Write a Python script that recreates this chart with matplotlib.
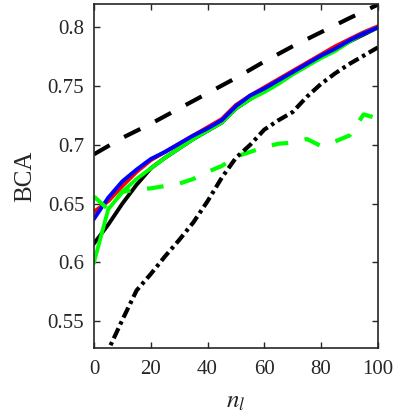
import numpy as np
from matplotlib import pyplot as plt

plt.rcParams['font.family'] = ['Liberation Serif', 'DejaVu Serif']
plt.rcParams['mathtext.fontset'] = 'stix'
plt.rcParams['lines.scale_dashes'] = False

n = np.arange(0, 101, 5)
n10 = np.arange(0, 101, 10)

# solid curves
bca_black = [0.616, 0.632, 0.650, 0.666, 0.680, 0.689, 0.697, 0.705, 0.712, 0.719, 0.731,
             0.739, 0.746, 0.753, 0.761, 0.768, 0.775, 0.781, 0.788, 0.794, 0.800]
bca_red = [0.643, 0.652, 0.665, 0.677, 0.687, 0.694, 0.701, 0.708, 0.715, 0.722, 0.734,
           0.742, 0.749, 0.756, 0.763, 0.770, 0.777, 0.784, 0.790, 0.796, 0.801]
bca_green = [0.600, 0.645, 0.660, 0.671, 0.680, 0.689, 0.697, 0.705, 0.712, 0.719, 0.731,
             0.739, 0.745, 0.752, 0.760, 0.767, 0.774, 0.780, 0.788, 0.795, 0.800]
bca_blue = [0.637, 0.655, 0.669, 0.679, 0.688, 0.694, 0.701, 0.708, 0.714, 0.721, 0.733,
            0.742, 0.748, 0.755, 0.762, 0.769, 0.776, 0.782, 0.789, 0.795, 0.800]

# dashed / dash-dot curves
bca_green_dash = [0.656, 0.645, 0.660, 0.662, 0.663, 0.665, 0.667, 0.671, 0.677, 0.682, 0.690,
                  0.694, 0.698, 0.701, 0.702, 0.705, 0.699, 0.703, 0.708, 0.726, 0.7225]
bca_black_dash = [0.692, 0.706, 0.718, 0.731, 0.744, 0.757, 0.771, 0.784, 0.796, 0.808, 0.8195]
bca_black_dashdot = [0.500, 0.525, 0.551, 0.576, 0.590, 0.605, 0.619, 0.634, 0.652, 0.672, 0.689,
                     0.700, 0.713, 0.721, 0.728, 0.741, 0.752, 0.761, 0.769, 0.776, 0.783]

fig = plt.figure(figsize=(3.99, 4.18), dpi=100)
ax = fig.add_axes([0.2356, 0.1675, 0.7114, 0.8229])

lw = 2.8
ax.plot(n, bca_black, color='k', lw=lw)
ax.plot(n, bca_red, color='r', lw=lw)
ax.plot(n, bca_green, color=(0, 1, 0), lw=lw)
ax.plot(n, bca_blue, color='b', lw=lw)
ax.plot(n, bca_green_dash, color=(0, 1, 0), lw=3, dashes=[12, 12], dash_capstyle='butt')
ax.plot(n10, bca_black_dash, color='k', lw=3, dashes=[13, 12], dash_capstyle='butt')
ax.plot(n, bca_black_dashdot, color='k', lw=3, dashes=[8, 3, 2.5, 3], dash_capstyle='butt')

ax.set_xlim(0, 100)
ax.set_ylim(0.527, 0.82)
ax.set_xticks([0, 20, 40, 60, 80, 100])
ax.set_yticks([0.55, 0.6, 0.65, 0.7, 0.75, 0.8])
ax.set_yticklabels(['0.55', '0.6', '0.65', '0.7', '0.75', '0.8'])
ax.tick_params(direction='in', top=True, right=True, length=4, width=1, labelsize=15,
               colors='#262626')
ax.tick_params(axis='x', pad=9)
ax.tick_params(axis='y', pad=7)
for s in ax.spines.values():
    s.set_linewidth(1.2)
    s.set_color('#262626')

ax.set_xlabel('$n_l$', fontsize=18, color='#262626', labelpad=8)
ax.set_ylabel('BCA', fontsize=18, color='#262626', labelpad=8)

plt.savefig('out.png', dpi=100)
